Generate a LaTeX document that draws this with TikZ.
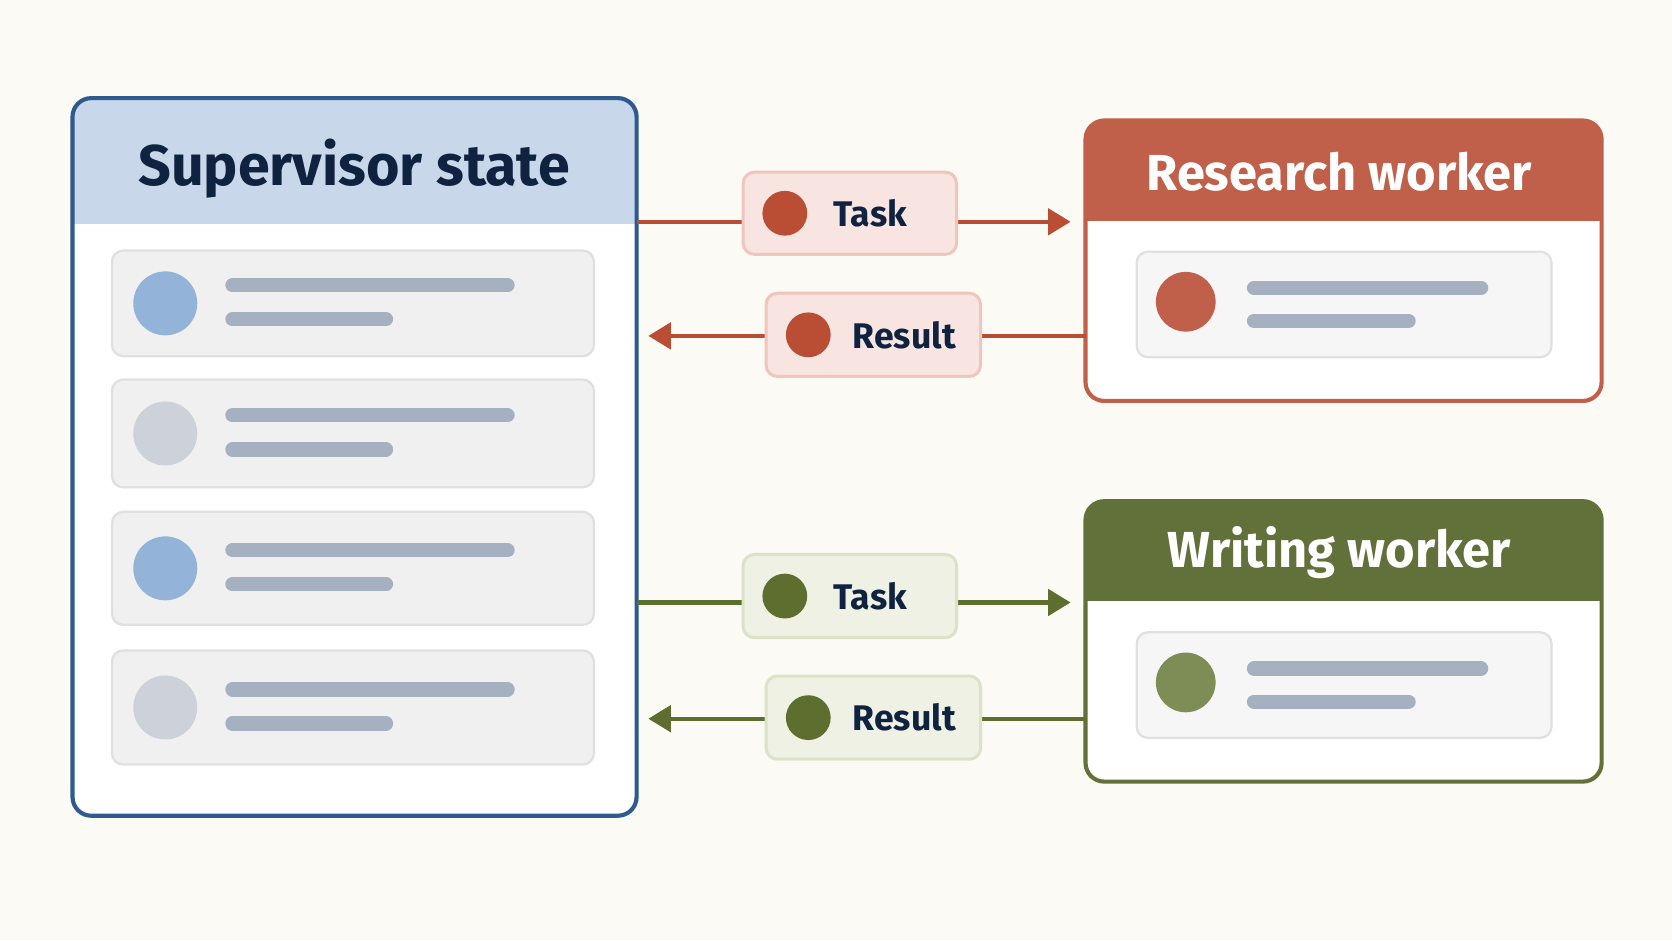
\documentclass[tikz,border=0pt]{standalone}
\usepackage{fontspec}
\setmainfont{Fira Sans}
\usetikzlibrary{arrows.meta}
\definecolor{bg}{HTML}{FCFAF5}
\definecolor{supb}{HTML}{2E5A8E}
\definecolor{suph}{HTML}{C9D7EA}
\definecolor{navy}{HTML}{0F2340}
\definecolor{rowf}{HTML}{F0F0F0}
\definecolor{rowd}{HTML}{E0E0E0}
\definecolor{cblue}{HTML}{93B3D8}
\definecolor{cgray}{HTML}{CDD1D9}
\definecolor{bar}{HTML}{A5B0C0}
\definecolor{red}{HTML}{C0604A}
\definecolor{redd}{HTML}{B94E35}
\definecolor{redl}{HTML}{F8E4E0}
\definecolor{redb}{HTML}{F0C6BC}
\definecolor{grn}{HTML}{62703A}
\definecolor{grnc}{HTML}{7E8C55}
\definecolor{grnd}{HTML}{5E6E2E}
\definecolor{grnl}{HTML}{EEF1E3}
\definecolor{grnb}{HTML}{DCE2C8}
\begin{document}
\begin{tikzpicture}[x=0.01cm,y=-0.01cm,
  row/.style={draw=rowd,fill=rowf,line width=0.6pt,rounded corners=3pt},
  barl/.style={draw=bar,line width=3.8pt,line cap=round},
  lab/.style={line width=0.8pt,rounded corners=3pt},
  ttl/.style={font=\fontsize{15.3}{18}\selectfont\bfseries},
  wttl/.style={font=\fontsize{13.5}{16}\selectfont\bfseries},
  ltxt/.style={font=\fontsize{9.5}{12}\selectfont\bfseries,text=navy},
  conn/.style={line width=1.1pt,-{Triangle[length=6pt,width=7pt]}}]
\fill[bg] (0,0) rectangle (1568,882);
\useasboundingbox (0,0) rectangle (1568,882);
% supervisor
\begin{scope}
\clip[rounded corners=5pt] (68,92) rectangle (597,765);
\fill[white] (68,92) rectangle (597,765);
\fill[suph] (68,92) rectangle (597,210);
\end{scope}
\draw[supb,line width=1.1pt,rounded corners=5pt] (68,92) rectangle (597,765);
\node[ttl,text=navy] (st) at (332,158) {Supervisor state};
\foreach \t/\b/\c [count=\i] in {235/334/cblue,356/457/cgray,480/586/cblue,610/717/cgray}{
  \draw[row] (105,\t) rectangle (557,\b);
  \pgfmathsetmacro\m{(\t+\b)/2}
  \fill[\c] (155,\m) circle (30);
  \draw[barl] (218,\m-17) -- (476,\m-17);
  \draw[barl] (218,\m+15) -- (362,\m+15);
}
% workers
\foreach \y/\col/\circ/\name in {113/red/red/Research worker,470/grn/grnc/Writing worker}{
  \begin{scope}
  \clip[rounded corners=5pt] (1018,\y) rectangle (1502,\y+263);
  \fill[white] (1018,\y) rectangle (1502,\y+263);
  \fill[\col] (1018,\y) rectangle (1502,\y+94);
  \end{scope}
  \draw[\col,line width=1.1pt,rounded corners=5pt] (1018,\y) rectangle (1502,\y+263);
  \node[wttl,text=white] at (1256,\y+48) {\name};
  \draw[row,fill=rowf!60] (1066,\y+123) rectangle (1455,\y+222);
  \fill[\circ] (1112,\y+170) circle (28);
  \draw[barl] (1176,\y+157) -- (1389,\y+157);
  \draw[barl] (1176,\y+188) -- (1321,\y+188);
}
% red connectors
\coordinate (a1s) at (597,208); \coordinate (a1e) at (1004,208);
\draw[conn,redd] (a1s) -- (a1e);
\coordinate (a2s) at (1018,315); \coordinate (a2e) at (608,315);
\draw[conn,redd] (a2s) -- (a2e);
\node[lab,draw=redb,fill=redl,minimum width=2cm,minimum height=0.77cm] (t1) at (797,200) {};
\fill[redd] (736,200) circle (21);
\node[ltxt] at (816,200) {Task};
\node[lab,draw=redb,fill=redl,minimum width=2.01cm,minimum height=0.78cm] (r1) at (819,314) {};
\fill[redd] (758,314) circle (21);
\node[ltxt] at (848,314) {Result};
% green connectors
\coordinate (b1s) at (597,565); \coordinate (b1e) at (1004,565);
\draw[conn,grnd] (b1s) -- (b1e);
\coordinate (b2s) at (1018,674); \coordinate (b2e) at (608,674);
\draw[conn,grnd] (b2s) -- (b2e);
\node[lab,draw=grnb,fill=grnl,minimum width=2cm,minimum height=0.78cm] (t2) at (797,559) {};
\fill[grnd] (736,559) circle (21);
\node[ltxt] at (816,559) {Task};
\node[lab,draw=grnb,fill=grnl,minimum width=2.01cm,minimum height=0.78cm] (r2) at (819,673) {};
\fill[grnd] (758,673) circle (21);
\node[ltxt] at (848,673) {Result};
\end{tikzpicture}
\end{document}
